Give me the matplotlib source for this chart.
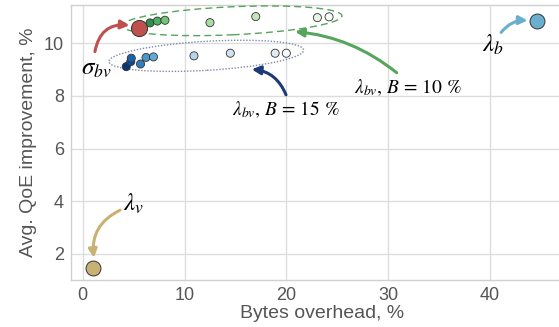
import matplotlib
matplotlib.use("Agg")
import matplotlib.pyplot as plt
import matplotlib.transforms as mtrans
from matplotlib.patches import Ellipse
import numpy as np

plt.rcParams['font.family'] = ['Liberation Sans', 'DejaVu Sans']
plt.rcParams['mathtext.fontset'] = 'stix'

# ---- data ----
sigma_bv_x, sigma_bv_y = [5.53], [10.59]
lambda_v_x, lambda_v_y = [1.0], [1.45]
lambda_b_x, lambda_b_y = [44.6], [10.86]

b10_x = [6.61, 7.33, 8.08, 12.5, 17.0, 23.05, 24.2]
b10_y = [10.77, 10.84, 10.87, 10.78, 11.01, 10.97, 11.0]

b15_x = [4.28, 4.72, 4.77, 5.68, 6.22, 6.95, 10.93, 14.5, 18.9, 20.0]
b15_y = [9.11, 9.30, 9.43, 9.21, 9.46, 9.48, 9.52, 9.62, 9.62, 9.62]

xticks = [0, 10, 20, 30, 40]
yticks = [2, 4, 6, 8, 10]
xlabel = "Bytes overhead, %"
ylabel = "Avg. QoE improvement, %"

# colours
green_cols = plt.cm.Greens([0.72, 0.6, 0.5, 0.35, 0.27, 0.12, 0.0])
blue_cols = plt.cm.Blues([0.98, 0.88, 0.8, 0.7, 0.6, 0.52, 0.3, 0.2, 0.12, 0.0])
red = "#c0504d"
tan = "#c8b273"
lblue = "#6aafd0"
navy = "#1c3a78"
green = "#55a55d"

fig = plt.figure(figsize=(5.59, 3.27), dpi=100)
ax = fig.add_axes([71/559, 1-280/327, (573-71)/559, (280-5)/327])
ax.set_xlim(-1.15, 48.16)
ax.set_ylim(1.01, 11.45)
ax.set_xticks(xticks)
ax.set_yticks(yticks)
ax.grid(True, color="#dddddd", lw=1.0)
ax.set_axisbelow(True)
for s in ['left', 'bottom', 'top']:
    ax.spines[s].set_color("#d0d0d0")
    ax.spines[s].set_linewidth(1.0)
ax.spines['right'].set_visible(False)
ax.tick_params(length=0, labelsize=13, colors="#555555", pad=5)
ax.set_xlabel(xlabel, fontsize=14, color="#555555", labelpad=1)
ax.set_ylabel(ylabel, fontsize=14, color="#555555", labelpad=5)

ec = "#333333"
ax.scatter(b15_x, b15_y, s=34, c=blue_cols, edgecolors=ec, linewidths=0.6, zorder=4)
ax.scatter(b10_x, b10_y, s=34, c=green_cols, edgecolors=ec, linewidths=0.6, zorder=4)
ax.scatter(sigma_bv_x, sigma_bv_y, s=135, c=red, edgecolors=ec, linewidths=0.7, zorder=5)
ax.scatter(lambda_v_x, lambda_v_y, s=115, c=tan, edgecolors=ec, linewidths=0.7, zorder=5)
ax.scatter(lambda_b_x, lambda_b_y, s=115, c=lblue, edgecolors=ec, linewidths=0.7, zorder=5)

# ellipses (size in inches, centred in data coords)
def ell(cx, cy, w, h, ang, **kw):
    tr = fig.dpi_scale_trans + mtrans.ScaledTranslation(cx, cy, ax.transData)
    e = Ellipse((0, 0), w, h, angle=ang, transform=tr, fill=False, **kw)
    ax.add_patch(e)

ell(14.67, 10.85, 2.20, 0.28, 2.6, ec=green, lw=1.0, ls=(0, (5, 3)), zorder=3)
ell(12.14, 9.52, 1.95, 0.29, 3.4, ec="#7f8aa6", lw=1.0, ls=(0, (1, 1.2)), zorder=3)

def arrow(start, end, col, rad):
    ax.annotate("", xy=end, xytext=start,
                arrowprops=dict(arrowstyle="-|>,head_length=0.5,head_width=0.25",
                                color=col, lw=2.2, shrinkA=0, shrinkB=0,
                                connectionstyle=f"arc3,rad={rad}"), zorder=6)

arrow((1.2, 9.68), (4.6, 10.68), red, -0.45)
arrow((3.66, 3.66), (1.1, 1.85), tan, 0.35)
arrow((41.1, 10.41), (43.7, 10.86), lblue, -0.25)
arrow((19.97, 8.04), (16.6, 9.01), navy, 0.3)
arrow((30.84, 8.88), (20.85, 10.44), green, 0.15)

tk = dict(ha="center", va="center", fontsize=18)
ax.text(1.3, 9.05, r"$\sigma_{bv}$", **tk)
ax.text(5.0, 3.9, r"$\lambda_{v}$", **tk)
ax.text(40.3, 9.94, r"$\lambda_{b}$", **tk)
lk = dict(ha="center", va="center", fontsize=14, family="STIXGeneral")
ax.text(19.97, 7.47, r"$\lambda_{bv}$, $B$ = 15 %", **lk)
ax.text(31.9, 8.30, r"$\lambda_{bv}$, $B$ = 10 %", **lk)

fig.savefig("out.png", dpi=100)
